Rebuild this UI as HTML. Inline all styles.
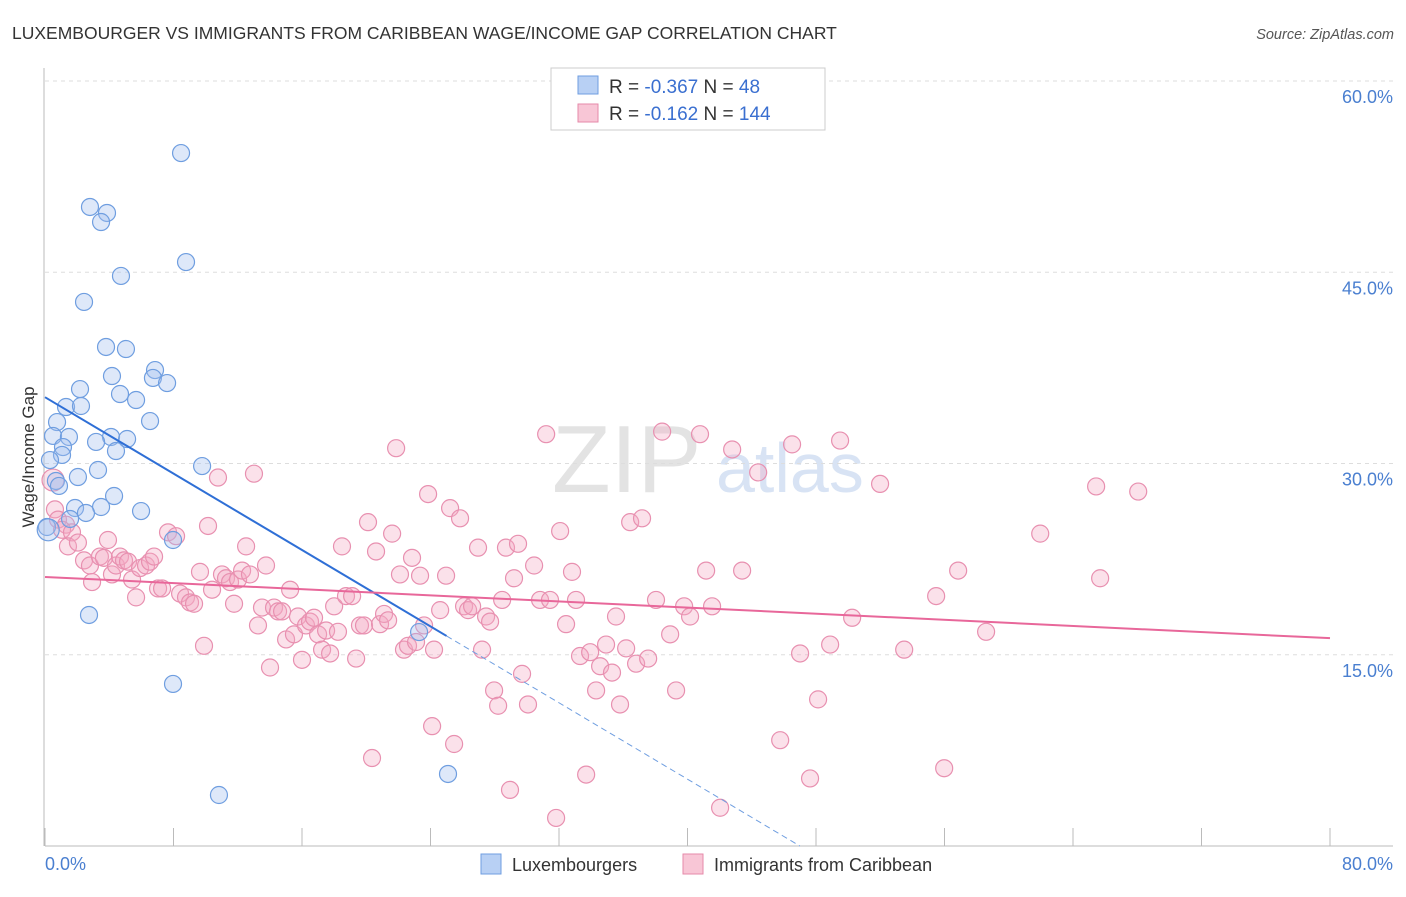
<!DOCTYPE html>
<html><head><meta charset="utf-8"><style>
body{margin:0;background:#fff;font-family:"Liberation Sans",sans-serif;}
svg text{font-family:"Liberation Sans",sans-serif;}
</style></head><body>
<svg id="chart" width="1406" height="892" viewBox="0 0 1406 892">
<text x="12" y="39" font-size="17.5" fill="#333">LUXEMBOURGER VS IMMIGRANTS FROM CARIBBEAN WAGE/INCOME GAP CORRELATION CHART</text>
<text x="1394" y="39" font-size="14.5" fill="#555" font-style="italic" text-anchor="end">Source: ZipAtlas.com</text>
<text x="552" y="492" font-size="96" fill="#ddd" font-family="Liberation Serif" opacity="0.8">ZIP</text>
<text x="716" y="492" font-size="70" fill="#c8d8f0" opacity="0.7">atlas</text>
<g id="grid"></g>
<g id="axes"></g>
<g id="pts"></g>
<g id="lines"></g>
<text transform="translate(34,457) rotate(-90)" font-size="17" fill="#333" text-anchor="middle">Wage/Income Gap</text>
<text x="45" y="870" font-size="18" fill="#4a7fd0">0.0%</text>
<text x="1393" y="870" font-size="18" fill="#4a7fd0" text-anchor="end">80.0%</text>
<g>
<rect x="551" y="68" width="274" height="62" fill="#fff" stroke="#ccc"/>
<rect x="578" y="76" width="20" height="18" fill="#b8d0f4" stroke="#6f9ee0"/>
<text x="609" y="93" font-size="19" fill="#333">R = <tspan fill="#3a6fd0">-0.367</tspan>   N =  <tspan fill="#3a6fd0">48</tspan></text>
<rect x="578" y="104" width="20" height="18" fill="#f8c6d6" stroke="#e68aa9"/>
<text x="609" y="120" font-size="19" fill="#333">R =  <tspan fill="#3a6fd0">-0.162</tspan>   N = <tspan fill="#3a6fd0">144</tspan></text>
</g>
<g>
<rect x="481" y="854" width="20" height="20" fill="#b8d0f4" stroke="#6f9ee0"/>
<text x="512" y="871" font-size="18" fill="#333">Luxembourgers</text>
<rect x="683" y="854" width="20" height="20" fill="#f8c6d6" stroke="#e68aa9"/>
<text x="714" y="871" font-size="18" fill="#333">Immigrants from Caribbean</text>
</g>
</svg>
<script>
const blueX=[8.47,2.8,3.86,3.49,8.78,4.73,2.43,3.8,5.04,4.17,6.85,6.72,7.6,2.18,4.67,5.67,1.31,2.24,0.75,6.54,0.5,1.49,4.11,5.11,3.18,1.12,4.42,1.06,0.31,3.3,9.78,2.05,0.68,0.87,4.3,3.49,1.87,2.55,5.98,1.56,0.12,7.97,2.74,7.97,23.29,25.09,10.83,0.2];
const blueY=[54.35,50.12,49.65,48.94,45.8,44.71,42.67,39.14,38.98,36.86,37.33,36.71,36.31,35.84,35.45,34.98,34.43,34.51,33.25,33.33,32.16,32.08,32.08,31.92,31.69,31.29,30.98,30.67,30.27,29.49,29.8,28.94,28.63,28.24,27.45,26.59,26.51,26.12,26.27,25.65,25.02,24.0,18.12,12.71,16.78,5.65,4.0,24.8];
const pinkX=[0.5,0.62,0.81,1.31,1.06,1.68,1.43,2.05,2.43,2.8,2.93,3.42,3.67,3.92,4.17,4.42,4.67,4.92,5.17,5.42,5.67,5.92,6.29,6.54,6.79,7.04,7.29,7.66,8.16,8.41,8.78,9.03,9.28,9.65,9.9,10.15,10.4,10.77,11.02,11.27,11.52,11.77,12.02,12.27,12.52,12.76,13.01,13.26,13.51,13.76,14.01,14.26,14.51,14.76,15.01,15.26,15.5,15.75,16.0,16.25,16.5,16.75,17.0,17.25,17.5,17.75,18.0,18.24,18.49,18.74,19.12,19.37,19.61,19.86,20.11,20.36,20.61,20.86,21.11,21.36,21.61,21.86,22.1,22.35,22.6,22.85,23.1,23.35,23.6,23.85,24.1,24.22,24.6,24.97,25.22,25.47,25.84,26.09,26.34,26.59,26.96,27.21,27.46,27.71,27.96,28.21,28.46,28.7,28.95,29.2,29.45,29.7,30.07,30.45,30.82,31.2,31.44,31.82,32.07,32.44,32.81,33.06,33.31,33.69,33.94,34.31,34.56,34.93,35.3,35.55,35.8,36.18,36.43,36.8,37.17,37.55,38.04,38.42,38.92,39.29,39.79,40.16,40.78,41.16,41.53,42.03,42.78,43.4,44.4,45.77,46.51,47.01,47.63,48.13,48.88,49.5,50.25,51.99,53.49,55.48,55.98,56.85,58.59,61.96,65.44,65.69,68.06];
const pinkY=[28.7,26.4,25.6,25.2,24.8,24.6,23.5,23.8,22.4,22.0,20.7,22.7,22.6,24.0,21.3,22.0,22.7,22.4,22.3,20.9,19.5,21.8,22.0,22.3,22.7,20.2,20.2,24.6,24.3,19.8,19.5,19.1,19.0,21.5,15.7,25.1,20.1,28.9,21.3,21.0,20.7,19.0,20.9,21.6,23.5,21.3,29.2,17.3,18.7,22.0,14.0,18.7,18.4,18.4,16.2,20.1,16.6,18.0,14.6,17.3,17.6,17.9,16.6,15.4,16.9,15.1,18.8,16.8,23.5,19.6,19.6,14.7,17.3,17.3,25.4,6.9,23.1,17.4,18.2,17.7,24.5,31.2,21.3,15.4,15.7,22.6,16.0,21.2,17.3,27.6,9.4,15.4,18.5,21.2,26.5,8.0,25.7,18.8,18.5,18.8,23.4,15.4,18.0,17.6,12.2,11.0,19.3,23.4,4.4,21.0,23.7,13.5,11.1,22.0,19.3,32.3,19.3,2.2,24.7,17.4,21.5,19.3,14.9,5.6,15.2,12.2,14.1,15.8,13.6,18.0,11.1,15.5,25.4,14.3,25.7,14.7,19.3,32.5,16.6,12.2,18.8,18.0,32.3,21.6,18.8,3.0,31.1,21.6,29.3,8.3,31.5,15.1,5.3,11.5,15.8,31.8,17.9,28.4,15.4,19.6,6.1,21.6,16.8,24.5,28.2,21.0,27.8];
const yTicks=[15,30,45,60];
const yTickLabels=["15.0%","30.0%","45.0%","60.0%"];
const blueLine={y0:35.2,slope:-0.749,solidEnd:25.0,dashEnd:47};
const pinkLine={y0:21.1,y1:16.3};
const X0=45,X1=1330,YB=846,YT=81;
const sx=v=>X0+v*(X1-X0)/80, sy=v=>YB-v*(YB-YT)/60;
const NS='http://www.w3.org/2000/svg';
function mk(t,a,p){const e=document.createElementNS(NS,t);for(const k in a)e.setAttribute(k,a[k]);p.appendChild(e);return e;}
const grid=document.getElementById('grid'),axes=document.getElementById('axes'),pts=document.getElementById('pts'),lines=document.getElementById('lines');
yTicks.forEach((t,i)=>{
 const l=mk('line',{x1:X0,x2:1393,y1:sy(t),y2:sy(t),stroke:'#ddd','stroke-dasharray':'4,4'},grid);
 
 
 const tx=mk('text',{x:1393,y:sy(t)+22,'font-size':18,fill:'#4a7fd0','text-anchor':'end'},grid);
 tx.textContent=yTickLabels[i];
 
 
});
const ya=mk('line',{x1:44,x2:44,y1:68,y2:YB,stroke:'#bbb'},axes);


const xa=mk('line',{x1:X0,x2:1393,y1:YB,y2:YB,stroke:'#bbb'},axes);


for(let v=0;v<=80;v+=8){const tk=mk('line',{x1:sx(v),x2:sx(v),y1:YB,y2:YB-18,stroke:'#bbb'},axes);
 
 }
pinkX.forEach((x,i)=>{const c=mk('circle',{cx:sx(x),cy:sy(pinkY[i]),r:i==0?11:8.5,fill:'rgba(244,170,196,0.35)',stroke:'#e890b0','stroke-width':1.2},pts);
 
 });
blueX.forEach((x,i)=>{const c=mk('circle',{cx:sx(x),cy:sy(blueY[i]),r:i==47?11:8.5,fill:'rgba(160,190,238,0.35)',stroke:'#6f9ee0','stroke-width':1.2},pts);
 
 });
const by=x=>blueLine.y0+blueLine.slope*x;
const b1=mk('line',{x1:sx(0),y1:sy(by(0)),x2:sx(blueLine.solidEnd),y2:sy(by(blueLine.solidEnd)),stroke:'#2f6fd6','stroke-width':2},lines);


const b2=mk('line',{x1:sx(blueLine.solidEnd),y1:sy(by(blueLine.solidEnd)),x2:sx(blueLine.dashEnd),y2:sy(by(blueLine.dashEnd)),stroke:'#6f9ee0','stroke-width':1,'stroke-dasharray':'6,4'},lines);


const p1=mk('line',{x1:sx(0),y1:sy(pinkLine.y0),x2:sx(80),y2:sy(pinkLine.y1),stroke:'#e8679a','stroke-width':2},lines);


</script>
</body></html>
